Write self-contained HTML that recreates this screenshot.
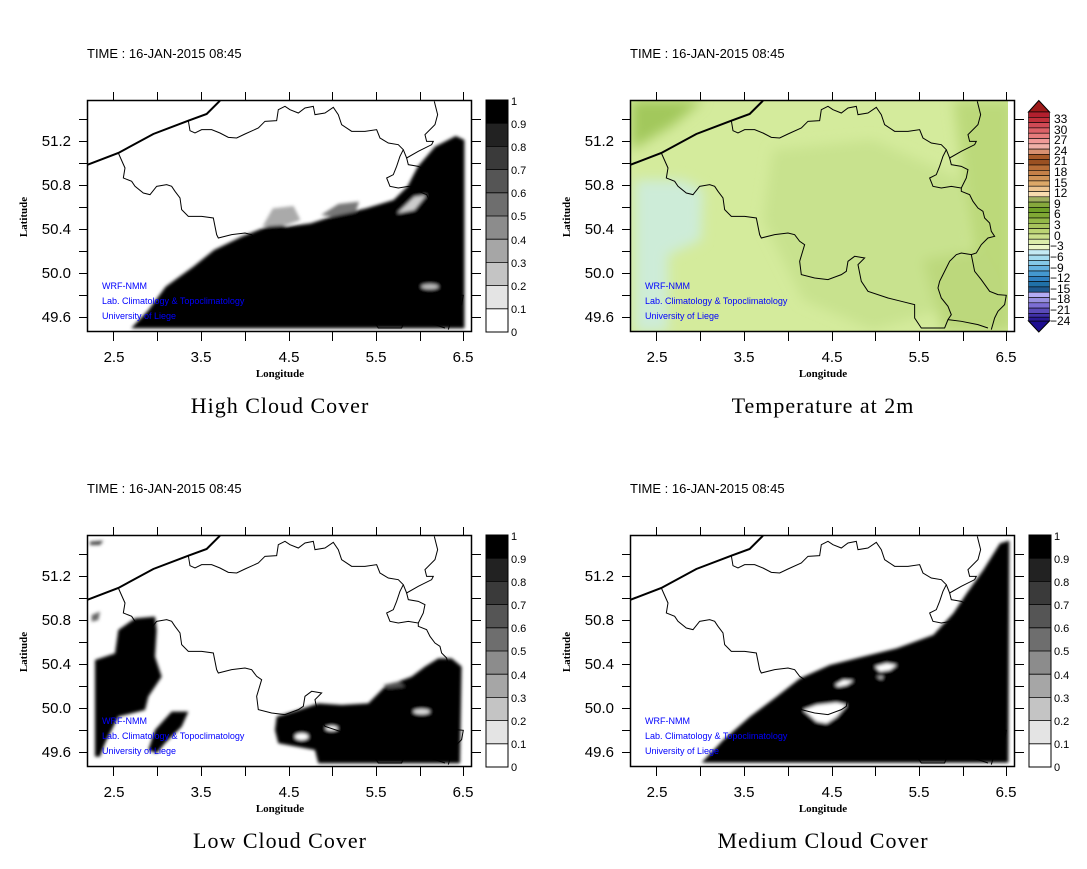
<!DOCTYPE html>
<html><head><meta charset="utf-8"><style>
html,body{margin:0;padding:0;background:#fff;}
svg{display:block;}
.tl{font-family:"Liberation Sans",sans-serif;font-size:15px;fill:#000;}
.tm{font-family:"Liberation Sans",sans-serif;font-size:13px;fill:#000;}
.cb{font-family:"Liberation Sans",sans-serif;font-size:11px;fill:#000;}
.cb2{font-family:"Liberation Sans",sans-serif;font-size:12px;fill:#000;}
.ax{font-family:"Liberation Serif",serif;font-size:11px;font-weight:bold;fill:#000;}
.ti{font-family:"Liberation Serif",serif;font-size:22px;fill:#000;letter-spacing:1px;}
.wm{font-family:"Liberation Sans",sans-serif;font-size:9px;fill:#0000ff;}
</style></head><body>
<svg width="1087" height="869" viewBox="0 0 1087 869" xmlns="http://www.w3.org/2000/svg">
<defs>
<filter id="bl" x="-5%" y="-5%" width="110%" height="110%"><feGaussianBlur stdDeviation="5"/></filter>
<filter id="bl2" x="-20%" y="-20%" width="140%" height="140%"><feGaussianBlur stdDeviation="6"/></filter>
<clipPath id="box"><rect x="88" y="101" width="383" height="231"/></clipPath>
<g id="border" transform="translate(85,98) scale(0.3333)" fill="none" stroke="#000">
<polyline stroke-width="6" points="8,200 100,165 205,108 310,68 365,48 405,8"/>
<polyline stroke-width="3" points="310,68 315,98 330,105 350,95 380,95 405,105 430,118 455,120 480,108 520,90 540,70 575,68 580,35 600,25 615,35 640,45 660,30 685,25 690,50 720,45 745,28 760,50 770,80 800,100 840,100 875,95 885,120 910,135 940,140 955,155 945,175 935,205 925,230 905,240 915,265 940,270 970,265 1000,270 1000,280 1025,290 1035,310 1050,330 1065,340 1070,360 1085,375 1090,400 1100,415 1080,420 1060,440 1045,465 1030,470 1000,465 985,470 965,490 945,530 935,550 930,570 940,600 960,625 970,650 960,665 950,690 900,690 880,690 860,660 860,620 820,610 780,600 720,580 700,550 690,500 710,480 680,475 660,490 655,520 640,530 600,545 560,540 520,530 515,490 530,440 515,430 500,410 480,405 440,410 400,420 395,410 385,360 350,355 310,355 290,335 285,300 270,280 260,265 245,260 215,265 195,290 175,285 150,265 140,250 115,240 120,210 100,165"/>
<polyline stroke-width="3" points="1030,470 1040,520 1060,545 1085,580 1110,590 1135,592 1130,620 1110,640 1100,660 1090,695"/>
<polyline stroke-width="3" points="960,665 1000,670 1050,680 1080,690"/>
<polyline stroke-width="3" points="955,155 965,180 1000,160 1040,140 1045,130 1025,130 1020,110 1050,80 1058,50 1048,10"/>
<polyline stroke-width="3" points="965,180 970,200 1000,205 1020,215 1015,240 1005,260 1000,270"/>
</g>
<g id="frame">
<rect x="87.5" y="100.5" width="384" height="231" fill="none" stroke="#000" stroke-width="1.5"/>
<path stroke="#000" stroke-width="1" d="M113.5 92V100M157.5 92V100M201.5 92V100M245.5 92V100M289.5 92V100M332.5 92V100M376.5 92V100M420.5 92V100M463.5 92V100
M113.5 332V341M157.5 332V341M201.5 332V341M245.5 332V341M289.5 332V341M332.5 332V341M376.5 332V341M420.5 332V341M463.5 332V341
M79 317.5H87M79 295.5H87M79 273.5H87M79 251.5H87M79 229.5H87M79 207.5H87M79 185.5H87M79 163.5H87M79 141.5H87M79 119.5H87
M472 317.5H481M472 295.5H481M472 273.5H481M472 251.5H481M472 229.5H481M472 207.5H481M472 185.5H481M472 163.5H481M472 141.5H481M472 119.5H481"/>
<g class="tl" text-anchor="middle"><text x="114" y="362">2.5</text><text x="201" y="362">3.5</text><text x="289" y="362">4.5</text><text x="376" y="362">5.5</text><text x="463" y="362">6.5</text></g>
<g class="tl" text-anchor="end"><text x="71" y="322">49.6</text><text x="71" y="278">50.0</text><text x="71" y="234">50.4</text><text x="71" y="190">50.8</text><text x="71" y="146">51.2</text></g>
<text class="ax" x="280" y="377" text-anchor="middle">Longitude</text>
<text class="ax" transform="translate(27,217) rotate(-90)" text-anchor="middle">Latitude</text>
<text class="tm" x="87" y="58">TIME : 16-JAN-2015 08:45</text>
<g class="wm"><text x="102" y="289">WRF-NMM</text><text x="102" y="304">Lab. Climatology &amp; Topoclimatology</text><text x="102" y="319">University of Liege</text></g>
</g>
<g id="gbar">
<rect x="486" y="100" width="22" height="23.2" fill="#000"/>
<rect x="486" y="123.2" width="22" height="23.2" fill="#222"/>
<rect x="486" y="146.4" width="22" height="23.2" fill="#3a3a3a"/>
<rect x="486" y="169.6" width="22" height="23.2" fill="#555"/>
<rect x="486" y="192.8" width="22" height="23.2" fill="#6e6e6e"/>
<rect x="486" y="216" width="22" height="23.2" fill="#8c8c8c"/>
<rect x="486" y="239.2" width="22" height="23.2" fill="#a6a6a6"/>
<rect x="486" y="262.4" width="22" height="23.2" fill="#c4c4c4"/>
<rect x="486" y="285.6" width="22" height="23.2" fill="#e4e4e4"/>
<rect x="486" y="308.8" width="22" height="23.2" fill="#fff"/>
<rect x="486" y="100" width="22" height="232" fill="none" stroke="#000" stroke-width="1"/>
<path stroke="#000" stroke-width="0.8" d="M486 123.2H508M486 146.4H508M486 169.6H508M486 192.8H508M486 216H508M486 239.2H508M486 262.4H508M486 285.6H508M486 308.8H508"/>
<g class="cb"><text x="511" y="105">1</text><text x="511" y="128">0.9</text><text x="511" y="151">0.8</text><text x="511" y="174">0.7</text><text x="511" y="197">0.6</text><text x="511" y="220">0.5</text><text x="511" y="244">0.4</text><text x="511" y="267">0.3</text><text x="511" y="290">0.2</text><text x="511" y="313">0.1</text><text x="511" y="336">0</text></g>
</g>
</defs>

<!-- TL: High cloud -->
<g clip-path="url(#box)">
<g filter="url(#bl)" transform="translate(0,80) scale(0.3453,0.3333)">
<polygon fill="#000" points="380,745 430,690 480,620 560,560 620,510 700,470 760,445 800,430 830,440 900,430 960,410 1060,385 1140,360 1180,320 1210,260 1260,200 1320,168 1345,180 1345,745"/>
<polygon fill="#aaa" points="760,440 790,385 850,378 870,420 830,435"/>
<polygon fill="#777" points="930,405 980,372 1040,365 1030,395 960,410"/>
<polygon fill="#ccc" points="1150,400 1200,350 1235,345 1200,390"/>
<ellipse cx="1245" cy="620" rx="25" ry="8" fill="#bbb"/>
</g>
</g>
<use href="#border" clip-path="url(#box)"/>
<use href="#frame"/><use href="#gbar"/>
<text class="ti" x="280" y="413" text-anchor="middle">High Cloud Cover</text>

<!-- TR: Temperature -->
<g transform="translate(543,0)">
<g clip-path="url(#box)">
<rect x="88" y="101" width="377" height="231" fill="#d4eb9c"/>
<g filter="url(#bl2)">
<polygon fill="#c8e28e" points="230,150 330,140 420,180 430,300 330,330 260,300 220,220"/>
<polygon fill="#bcd97a" points="410,100 470,100 470,330 445,330 430,250"/>
<polygon fill="#a2c85c" points="88,100 160,100 130,125 88,150"/>
<polygon fill="#cdecd8" points="92,180 140,180 160,190 158,240 125,255 125,332 92,332"/>
<polygon fill="#bcd87c" points="380,260 440,250 470,300 465,332 400,332"/>
</g>
<rect x="465" y="101" width="7" height="231" fill="#fff"/>
</g>
<use href="#border" clip-path="url(#box)"/>
<use href="#frame"/>
<text class="ti" x="280" y="413" text-anchor="middle">Temperature at 2m</text>
</g>
<!-- temperature colorbar -->
<g>
<polygon points="1028.5,112 1038.8,100.5 1049.5,112" fill="#9e1a1a" stroke="#000" stroke-width="1"/>
<polygon points="1028.5,321 1038.8,332 1049.5,321" fill="#1e0e90" stroke="#000" stroke-width="1"/>
<g stroke="#000" stroke-width="0.6">
<rect x="1028.5" y="112.0" width="21" height="5.3" fill="#b2202e"/>
<rect x="1028.5" y="117.3" width="21" height="5.3" fill="#c0303a"/>
<rect x="1028.5" y="122.6" width="21" height="5.3" fill="#d04a55"/>
<rect x="1028.5" y="127.9" width="21" height="5.3" fill="#dc6268"/>
<rect x="1028.5" y="133.2" width="21" height="5.3" fill="#e67c7c"/>
<rect x="1028.5" y="138.5" width="21" height="5.3" fill="#f09a98"/>
<rect x="1028.5" y="143.8" width="21" height="5.3" fill="#f0b0a8"/>
<rect x="1028.5" y="149.1" width="21" height="5.3" fill="#d89070"/>
<rect x="1028.5" y="154.4" width="21" height="5.3" fill="#a85a28"/>
<rect x="1028.5" y="159.7" width="21" height="5.3" fill="#9a5022"/>
<rect x="1028.5" y="165.0" width="21" height="5.3" fill="#b86e38"/>
<rect x="1028.5" y="170.3" width="21" height="5.3" fill="#c48048"/>
<rect x="1028.5" y="175.6" width="21" height="5.3" fill="#d09458"/>
<rect x="1028.5" y="180.9" width="21" height="5.3" fill="#dca868"/>
<rect x="1028.5" y="186.2" width="21" height="5.3" fill="#ecc490"/>
<rect x="1028.5" y="191.5" width="21" height="5.3" fill="#f8dcb0"/>
<rect x="1028.5" y="196.8" width="21" height="5.3" fill="#a0b060"/>
<rect x="1028.5" y="202.1" width="21" height="5.3" fill="#86a83c"/>
<rect x="1028.5" y="207.4" width="21" height="5.3" fill="#70a028"/>
<rect x="1028.5" y="212.7" width="21" height="5.3" fill="#80a834"/>
<rect x="1028.5" y="218.0" width="21" height="5.3" fill="#94b848"/>
<rect x="1028.5" y="223.3" width="21" height="5.3" fill="#a8c45c"/>
<rect x="1028.5" y="228.6" width="21" height="5.3" fill="#bcd474"/>
<rect x="1028.5" y="233.9" width="21" height="5.3" fill="#cce08c"/>
<rect x="1028.5" y="239.2" width="21" height="5.3" fill="#dcecaa"/>
<rect x="1028.5" y="244.5" width="21" height="5.3" fill="#ecf6c8"/>
<rect x="1028.5" y="249.8" width="21" height="5.3" fill="#c4eaf4"/>
<rect x="1028.5" y="255.1" width="21" height="5.3" fill="#a4dcf0"/>
<rect x="1028.5" y="260.4" width="21" height="5.3" fill="#84c8e8"/>
<rect x="1028.5" y="265.7" width="21" height="5.3" fill="#64b2e0"/>
<rect x="1028.5" y="271.0" width="21" height="5.3" fill="#4498d0"/>
<rect x="1028.5" y="276.3" width="21" height="5.3" fill="#3080c0"/>
<rect x="1028.5" y="281.6" width="21" height="5.3" fill="#2070a8"/>
<rect x="1028.5" y="286.9" width="21" height="5.3" fill="#205a90"/>
<rect x="1028.5" y="292.2" width="21" height="5.3" fill="#b4acf4"/>
<rect x="1028.5" y="297.5" width="21" height="5.3" fill="#9890e0"/>
<rect x="1028.5" y="302.8" width="21" height="5.3" fill="#7c6ed4"/>
<rect x="1028.5" y="308.1" width="21" height="5.3" fill="#5a4ab8"/>
<rect x="1028.5" y="313.4" width="21" height="3.8" fill="#4030a8"/>
<rect x="1028.5" y="317.2" width="21" height="3.8" fill="#2a1a94"/>
</g>
<g class="cb2"><text x="1054" y="123">33</text><text x="1054" y="134">30</text><text x="1054" y="144">27</text><text x="1054" y="155">24</text><text x="1054" y="165">21</text><text x="1054" y="176">18</text><text x="1054" y="187">15</text><text x="1054" y="197">12</text><text x="1054" y="208">9</text><text x="1054" y="218">6</text><text x="1054" y="229">3</text><text x="1054" y="240">0</text><text x="1050" y="250">−3</text><text x="1050" y="261">−6</text><text x="1050" y="272">−9</text><text x="1050" y="282">−12</text><text x="1050" y="293">−15</text><text x="1050" y="303">−18</text><text x="1050" y="314">−21</text><text x="1050" y="325">−24</text></g>
</g>

<!-- BL: Low cloud -->
<g filter="url(#bl)" transform="translate(85,530) scale(0.3333)">
<polygon fill="#000" points="30,390 90,370 100,300 150,265 210,260 215,300 210,380 230,440 190,500 180,540 100,560 60,640 45,680 30,680"/>
<polygon fill="#000" points="190,660 210,600 260,545 310,545 290,590 240,640 215,670"/>
<polygon fill="#444" points="15,35 55,32 45,45 15,45"/>
<polygon fill="#666" points="20,255 45,245 40,270 20,275"/>
<polygon fill="#000" points="575,560 640,540 700,520 770,525 850,520 900,470 980,440 1020,410 1060,385 1100,385 1130,410 1125,700 700,700 690,660 580,640 570,600"/>
<polygon fill="#555" points="895,465 940,455 960,470 910,475"/>
<ellipse cx="650" cy="620" rx="20" ry="10" fill="#fff"/>
<ellipse cx="740" cy="595" rx="18" ry="7" fill="#fff"/>
<ellipse cx="1010" cy="545" rx="25" ry="8" fill="#ddd"/>
</g>
<g transform="translate(0,435)">
<use href="#border" clip-path="url(#box)"/>
<use href="#frame"/><use href="#gbar"/>
<text class="ti" x="280" y="413" text-anchor="middle">Low Cloud Cover</text>
</g>

<!-- BR: Medium cloud -->
<g filter="url(#bl)" transform="translate(690,530) scale(0.3333)">
<polygon fill="#000" points="35,698 100,630 180,560 260,500 330,445 420,405 520,380 620,355 730,315 790,250 830,190 880,120 930,40 958,32 955,698"/>
<polygon fill="#fff" points="340,540 380,525 440,518 470,525 440,560 410,580 380,575"/>
<polygon fill="#fff" points="435,465 460,450 490,452 470,465 445,470"/>
<polygon fill="#fff" points="555,410 590,400 620,405 600,420 570,425"/>
<polygon fill="#ccc" points="560,440 580,438 575,448"/>
</g>
<g transform="translate(543,435)">
<use href="#border" clip-path="url(#box)"/>
<use href="#frame"/><use href="#gbar"/>
<text class="ti" x="280" y="413" text-anchor="middle">Medium Cloud Cover</text>
</g>
</svg>
</body></html>
